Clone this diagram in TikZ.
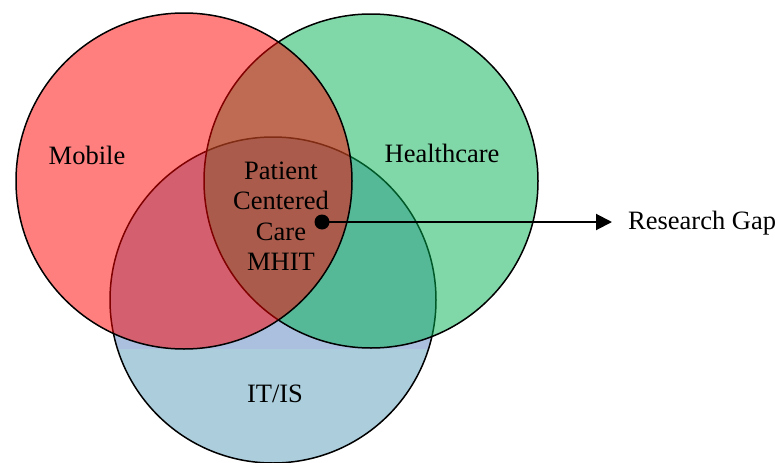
\documentclass[tikz,border=0pt]{standalone}
\usepackage{fontspec}
\setmainfont{Liberation Serif}
\usetikzlibrary{arrows.meta}
\definecolor{mobred}{RGB}{255,0,0}
\definecolor{hcgreen}{RGB}{1,177,81}
\definecolor{itblue}{RGB}{171,205,220}
\definecolor{itband}{RGB}{170,192,222}
\begin{document}
\begin{tikzpicture}[x=1pt,y=-1pt,
  setcircle/.style={draw=black,line width=1.5pt},
  lbl/.style={font=\fontsize{26.5}{30.5}\selectfont,inner sep=0pt,text=black},
  gaparrow/.style={line width=2pt,-{Triangle[length=16pt,width=16pt]}}]
\useasboundingbox (0,0) rectangle (779,463);
% IT/IS (bottom)
\fill[itblue] (273,300) circle (163);
\begin{scope}
  \clip (0,0) rectangle (779,348);
  \fill[itband] (273,300) circle (163);
\end{scope}
\draw[setcircle] (273,300) circle (163);
% Healthcare
\draw[setcircle,fill=hcgreen,fill opacity=0.5] (371,181) circle (167);
% Mobile
\draw[setcircle,fill=mobred,fill opacity=0.5] (184,181) circle (168);
% labels
\node[lbl,anchor=base] (mobile) at (87,164) {Mobile};
\node[lbl,anchor=base] (health) at (442,162) {Healthcare};
\node[lbl,anchor=base] (itis) at (275,402) {IT/IS};
\node[lbl,align=center] (core) at (281,216) {Patient\\Centered\\Care\\MHIT};
\node[lbl,anchor=base west] (gap) at (628,229) {Research Gap};
\fill[black] (322,222) circle (7.5) coordinate (dotc);
\node[circle,inner sep=0pt,minimum size=15pt] (dot) at (322,222) {};
\coordinate (tip) at (612,222);
\draw[gaparrow] (dot.center) -- (tip);
\end{tikzpicture}
\end{document}
